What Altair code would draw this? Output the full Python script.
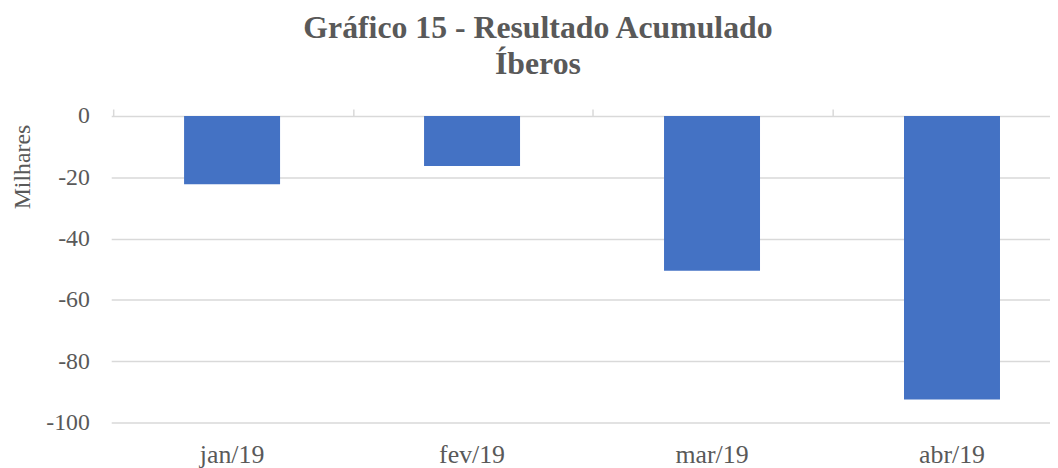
import altair as alt
import pandas as pd

months = ["jan/19", "fev/19", "mar/19", "abr/19"]
values = [-22.3, -16.3, -50.5, -92.5]
y_ticks = [0, -20, -40, -60, -80, -100]

df = pd.DataFrame({"mes": months, "valor": values})

FONT = "Liberation Serif"
GREY = "#595959"
GRID = "#d9d9d9"

xscale = alt.Scale(domain=months, paddingInner=0.6, paddingOuter=0.256, align=0.593)
yscale = alt.Scale(domain=[-100, 0], nice=False)

bars = alt.Chart(df).mark_bar(color="#4472C4").encode(
    x=alt.X("mes:N", sort=months, scale=xscale,
            axis=alt.Axis(title=None, orient="bottom", domain=False, ticks=False,
                          labelAngle=0, labelFont=FONT, labelFontSize=26,
                          labelColor=GREY, labelPadding=19, grid=False)),
    y=alt.Y("valor:Q", scale=yscale,
            axis=alt.Axis(values=y_ticks, title="Milhares", titleFont=FONT,
                          titleFontSize=24, titleFontWeight="normal", titleColor=GREY,
                          titleAngle=270, titleX=-89, titleY=51,
                          titleAlign="center", titleBaseline="middle",
                          labelExpr="'' + datum.value",
                          labelFont=FONT, labelFontSize=24, labelColor=GREY,
                          labelPadding=22, domain=False, ticks=False,
                          grid=True, gridColor=GRID, gridWidth=1.5)),
)

ticks_layer = alt.Chart(df).mark_bar(opacity=0).encode(
    x=alt.X("mes:N", sort=months, scale=xscale,
            axis=alt.Axis(title=None, orient="top", labels=False, domain=False,
                          ticks=True, tickOffset=-120, tickSize=7,
                          tickColor=GRID, tickWidth=1.5, grid=False)),
    y=alt.Y("valor:Q", scale=yscale, axis=None),
)

chart = alt.layer(bars, ticks_layer).resolve_scale(x="shared", y="shared").resolve_axis(
    x="independent", y="independent"
).properties(
    width=946,
    height=309,
    autosize="none",
    background="white",
    padding={"left": 104, "top": 107, "right": 0, "bottom": 44},
    title=alt.TitleParams(
        text=["Gráfico 15 - Resultado Acumulado", "Íberos"],
        font=FONT, fontSize=32, fontWeight="bold", color=GREY,
        anchor="middle", dx=-43, offset=23, lineHeight=37,
    ),
).configure_view(strokeWidth=0, stroke="transparent")

chart.save("out.html", embed_options={"renderer": "svg", "actions": False})
